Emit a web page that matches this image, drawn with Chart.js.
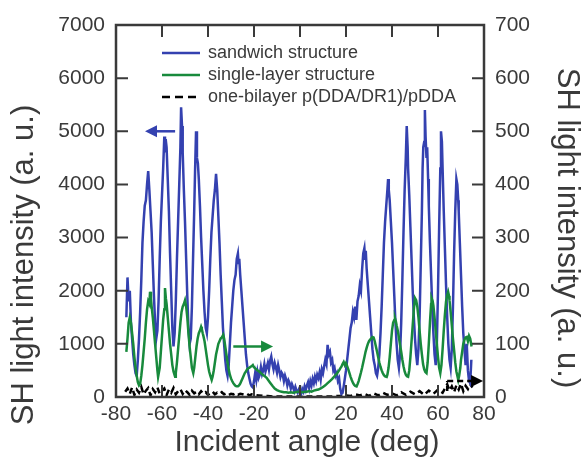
<!DOCTYPE html>
<html>
<head>
<meta charset="utf-8">
<script src="https://cdn.jsdelivr.net/npm/chart.js@4.4.1/dist/chart.umd.min.js"></script>
<style>
  html, body { margin: 0; padding: 0; background: #fff; }
  canvas { display: block; }
</style>
</head>
<body>
<canvas id="shg" width="581" height="457"></canvas>
<script>
// Data
const xTicks = [-80, -60, -40, -20, 0, 20, 40, 60, 80];
const leftTicks = [0, 1000, 2000, 3000, 4000, 5000, 6000, 7000];
const rightTicks = [0, 100, 200, 300, 400, 500, 600, 700];

const seriesNames = ['sandwich structure', 'single-layer structure', 'one-bilayer p(DDA/DR1)/pDDA'];

// sandwich structure (left axis)
const sandwichAngle = [
  -75.5, -75, -74.5, -74, -73.5, -73, -72.5, -72, -71.5, -71, -70.5, -70, -69.5, -69, -68.5, -68, -67.5, -67, -66.5, -66,
  -65.5, -65, -64.5, -64, -63.5, -63, -62.5, -62, -61.5, -61, -60.5, -60, -59.5, -59, -58.7, -58.4, -58, -57.5, -57, -56.5,
  -56, -55.5, -55, -54.5, -54, -53.5, -53, -52.5, -52, -51.7, -51.3, -51, -50.5, -50, -49.5, -49, -48.5, -48, -47.5, -47,
  -46.5, -46, -45.6, -45.2, -44.8, -44.4, -44, -43.5, -43, -42.5, -42, -41.5, -41, -40.5, -40, -39.5, -39, -38.5, -38, -37.5,
  -37, -36.5, -36, -35.5, -35, -34.5, -34, -33.5, -33, -32.5, -32, -31.5, -31, -30.5, -30, -29.5, -29, -28.5, -28, -27.5,
  -27, -26.7, -26.4, -26, -25.5, -25, -24.5, -24, -23.5, -23, -22.5, -22, -21.5, -21, -20.5, -20, -19.5, -19, -18.5, -18,
  -17.5, -17, -16.5, -16, -15.5, -15, -14.5, -14, -13.5, -13, -12.5, -12, -11.5, -11, -10.5, -10, -9.5, -9, -8.5, -8,
  -7.5, -7, -6.5, -6, -5.5, -5, -4.5, -4, -3.5, -3, -2.5, -2, -1.5, -1, -0.5, 0, 0.5, 1, 1.5, 2,
  2.5, 3, 3.5, 4, 4.5, 5, 5.5, 6, 6.5, 7, 7.5, 8, 8.5, 9, 9.5, 10, 10.5, 11, 11.5, 12,
  12.5, 13, 13.5, 14, 14.5, 15, 15.5, 16, 16.5, 17, 17.5, 18, 18.5, 19, 19.5, 20, 20.5, 21, 21.5, 22,
  22.5, 23, 23.5, 24, 24.5, 25, 25.5, 26, 26.5, 27, 27.5, 28, 28.3, 28.6, 29, 29.5, 30, 30.5, 31, 31.5,
  32, 32.5, 33, 33.5, 34, 34.5, 35, 35.5, 36, 36.5, 37, 37.5, 38, 38.3, 38.6, 39, 39.5, 40, 40.5, 41,
  41.5, 42, 42.5, 43, 43.5, 44, 44.5, 45, 45.5, 46, 46.4, 46.8, 47, 47.5, 48, 48.5, 49, 49.5, 50, 50.5,
  51, 51.5, 52, 52.5, 53, 53.3, 53.6, 54, 54.3, 54.6, 55, 55.3, 55.7, 56, 56.5, 57, 57.5, 58, 58.5, 59,
  59.5, 60, 60.5, 61, 61.3, 61.7, 62, 62.5, 63, 63.5, 64, 64.5, 65, 65.5, 66, 66.5, 67, 67.5, 68, 68.4,
  68.8, 69, 69.5, 70, 70.5, 71, 71.5, 72, 72.5, 73, 73.5, 74, 74.5
];
const sandwichSignal = [
  1500, 2250, 1800, 2000, 1400, 1100, 800, 600, 450, 400, 700, 1100, 1600, 2200, 2900, 3300, 3600, 3700, 4000, 4250,
  3900, 3500, 3100, 2500, 1900, 1400, 1100, 1250, 1800, 2600, 3300, 3800, 4300, 4900, 4600, 4850, 4700, 4100, 3500, 2700,
  2000, 1300, 950, 1200, 1800, 2600, 3300, 4000, 4700, 5450, 5100, 4600, 3900, 3300, 2600, 1900, 1300, 1000, 1100, 1700,
  2600, 3500, 4300, 5000, 4500, 4400, 4100, 3600, 3000, 2500, 2000, 1600, 1300, 1200, 1500, 2000, 2600, 3100, 3400, 3700,
  3900, 4200, 3900, 3400, 2900, 2300, 1800, 1300, 1000, 700, 500, 400, 600, 1000, 1400, 1700, 2000, 2200, 2300, 2600,
  2700, 2500, 2600, 2300, 2000, 1700, 1400, 1100, 800, 600, 450, 350, 250, 200, 180, 300, 450, 320, 480, 360,
  420, 560, 430, 500, 620, 480, 560, 640, 520, 680, 760, 620, 520, 640, 560, 460, 600, 500, 380, 460,
  420, 300, 400, 330, 220, 310, 260, 160, 240, 180, 110, 190, 120, 80, 140, 90, 60, 150, 100, 200,
  130, 220, 280, 170, 300, 220, 340, 260, 380, 300, 420, 360, 460, 330, 520, 450, 580, 700, 620, 980,
  800, 850, 650, 700, 500, 550, 400, 450, 300, 350, 150, 60, 80, 200, 350, 500, 700, 900, 1100, 1300,
  1400, 1600, 1500, 1700, 1450, 1800, 1900, 2100, 2000, 2400, 2700, 2800, 2600, 2750, 2400, 2100, 1800, 1500, 1200, 900,
  700, 600, 450, 400, 550, 800, 1200, 1700, 2300, 2900, 3300, 3600, 3900, 4100, 3900, 3700, 3300, 2900, 2400, 1900,
  1400, 1000, 700, 550, 800, 1400, 2200, 3100, 3900, 4500, 5100, 4700, 4300, 3800, 3200, 2600, 2000, 1500, 1100, 800,
  600, 900, 1500, 2500, 3500, 4300, 4700, 4800, 5400, 4900, 4500, 4700, 4100, 3600, 2900, 2300, 1700, 1200, 800, 600,
  1000, 2000, 3200, 4300, 5000, 4800, 4300, 3500, 2800, 2100, 1500, 1000, 700, 550, 900, 1700, 2700, 3500, 4100, 4000,
  3700, 3500, 2900, 2300, 1700, 1200, 900, 600, 1000, 500, 300, 260, 700
];

// single-layer structure (right axis)
const singleAngle = [
  -75.5, -75, -74.5, -74, -73.5, -73, -72.5, -72, -71.5, -71, -70.5, -70, -69.5, -69, -68.5, -68, -67.5, -67, -66.5, -66,
  -65.5, -65.2, -64.8, -64.5, -64, -63.5, -63, -62.5, -62, -61.7, -61, -60.5, -60, -59.5, -59, -58.7, -58.3, -58, -57.5, -57,
  -56.5, -56, -55.5, -55, -54.3, -54, -53.5, -53, -52.5, -52, -51.5, -51, -50.5, -50, -49.5, -49, -48.5, -48, -47.5, -47,
  -46.4, -46, -45.5, -45, -44.5, -44, -43.5, -43, -42.7, -42.3, -42, -41.5, -41, -40.5, -40, -39.5, -39, -38.4, -38, -37.5,
  -37, -36.5, -36, -35.5, -35, -34.5, -34, -33.4, -33, -32.5, -32, -31.5, -31, -30.5, -30, -29.5, -29, -28.5, -28, -27.5,
  -27, -26.5, -26, -25.5, -25, -24.5, -24, -23.5, -23, -22.5, -22, -21.5, -21, -20.5, -20, -19.5, -19, -18.5, -18, -17.5,
  -17, -16.5, -16, -15.5, -15, -14.5, -14, -13, -12, -11, -10, -9, -8, -7, -6, -5, -4, -3, -2, -1,
  0, 1, 2, 3, 4, 5, 6, 7, 8, 9, 10, 11, 12, 13, 14, 15, 16, 17, 17.5, 18,
  18.5, 19, 19.5, 20, 20.5, 21, 21.5, 22, 22.5, 23, 23.5, 24, 24.6, 25, 25.5, 26, 26.5, 27, 27.5, 28,
  28.5, 29, 29.5, 30, 30.5, 31, 31.5, 32, 32.5, 33, 33.5, 34, 34.5, 35, 35.5, 36, 36.5, 37, 37.7, 38,
  38.5, 39, 39.5, 40, 40.5, 41, 41.3, 41.7, 42, 42.5, 43, 43.5, 44, 44.5, 45, 45.5, 46, 46.5, 47, 47.5,
  48, 48.5, 49, 49.5, 50, 50.5, 51, 51.5, 52, 52.5, 53, 53.5, 54, 54.5, 55, 55.5, 56, 56.5, 57, 57.2,
  57.7, 58, 58.5, 59, 59.5, 60, 60.5, 61, 61.5, 62, 62.5, 63, 63.5, 64, 64.4, 64.8, 65, 65.5, 66, 66.5,
  67, 67.5, 68, 68.5, 68.8, 69.2, 69.7, 70, 70.5, 71, 71.5, 72, 72.5, 73, 73.5, 74, 74.6
];
const singleSignal = [
  85, 110, 140, 150, 140, 120, 100, 75, 55, 40, 28, 22, 25, 40, 60, 85, 110, 140, 165, 180,
  175, 198, 185, 170, 150, 125, 100, 75, 50, 38, 55, 85, 115, 145, 165, 205, 185, 175, 150, 125,
  100, 80, 60, 48, 38, 45, 65, 90, 115, 140, 160, 170, 175, 182, 170, 150, 120, 95, 75, 55,
  45, 55, 75, 95, 110, 120, 125, 132, 128, 120, 115, 105, 90, 75, 60, 48, 40, 32, 38, 50,
  65, 80, 90, 100, 105, 110, 112, 117, 110, 95, 80, 65, 52, 42, 35, 30, 26, 23, 21, 20,
  20, 22, 25, 30, 35, 40, 45, 48, 52, 54, 55, 57, 58, 60, 56, 54, 52, 50, 49, 47,
  45, 43, 41, 40, 38, 36, 33, 27, 21, 16, 13, 11, 10, 9, 9, 8, 9, 8, 9, 10,
  10, 9, 10, 10, 11, 10, 12, 13, 14, 16, 19, 22, 26, 30, 34, 39, 44, 50, 54, 57,
  62, 66, 60, 64, 58, 52, 45, 38, 32, 27, 23, 21, 20, 24, 30, 38, 46, 55, 65, 75,
  85, 93, 100, 105, 108, 110, 113, 112, 105, 95, 85, 75, 65, 57, 50, 45, 41, 39, 38, 42,
  55, 75, 100, 125, 140, 145, 148, 142, 135, 125, 112, 98, 85, 70, 58, 48, 42, 39, 38, 50,
  75, 105, 135, 165, 186, 182, 170, 150, 125, 100, 80, 62, 52, 47, 45, 65, 100, 140, 175, 186,
  180, 172, 150, 125, 100, 75, 55, 45, 60, 90, 125, 155, 180, 192, 198, 190, 182, 160, 135, 110,
  88, 65, 48, 38, 32, 40, 55, 70, 85, 100, 108, 112, 113, 105, 115, 110, 95
];

// one-bilayer reference (right axis)
const bilayerAngle = [
  -76, -75, -74, -73, -72, -71, -70, -69, -68, -67, -66, -65, -64, -63, -62, -61, -60, -59, -58, -57,
  -56, -55, -54, -53, -52, -51, -50, -49, -48, -47, -46, -45, -44, -43, -42, -41, -40, -39, -38, -37,
  -36, -35, -34, -33, -32, -31, -30, -29, -28, -27, -26, -25, -24, -23, -22, -21, -20, -18, -16, -14,
  -12, -10, -8, -6, -4, -2, 0, 2, 4, 6, 8, 10, 12, 14, 16, 18, 20, 22, 24, 26,
  28, 30, 32, 34, 36, 38, 40, 42, 44, 46, 48, 50, 52, 54, 56, 58, 60, 62, 63, 64,
  65, 66, 67, 68, 69, 70, 71, 72, 73, 74, 75
];
const bilayerSignal = [
  10, 16, 6, 18, 4, 14, 8, 19, 5, 12, 17, 3, 15, 9, 18, 6, 12, 16, 4, 14,
  8, 17, 5, 11, 15, 6, 13, 9, 4, 12, 7, 10, 5, 11, 6, 9, 4, 8, 10, 5,
  8, 6, 9, 5, 7, 4, 6, 5, 7, 4, 6, 5, 4, 6, 3, 5, 4, 3, 2, 2,
  1, 1, 1, 1, 1, 1, 1, 1, 1, 1, 1, 1, 1, 1, 2, 2, 3, 2, 5, 3,
  6, 2, 7, 3, 8, 4, 7, 3, 9, 4, 10, 5, 11, 4, 12, 6, 14, 8, 16, 24,
  12, 20, 9, 22, 14, 25, 11, 21, 15, 24, 18
];

const pairs = (xs, ys) => xs.map((x, i) => ({ x: x, y: ys[i] }));

const ink = '#3a3a3a';
const blue = '#3441b0';
const green = '#188a3c';
const fontFamily = '"Liberation Sans", Arial, Helvetica, sans-serif';

// arrows telling which axis each curve belongs to
function arrow(ctx, x1, y, x2, color, dashed) {
  const dir = Math.sign(x2 - x1);
  ctx.save();
  ctx.strokeStyle = color;
  ctx.fillStyle = color;
  ctx.lineWidth = 2.5;
  if (dashed) ctx.setLineDash([6, 4]);
  ctx.beginPath();
  ctx.moveTo(x1, y);
  ctx.lineTo(x2 - dir * 8, y);
  ctx.stroke();
  ctx.setLineDash([]);
  ctx.beginPath();
  ctx.moveTo(x2, y);
  ctx.lineTo(x2 - dir * 12, y - 6);
  ctx.lineTo(x2 - dir * 12, y + 6);
  ctx.closePath();
  ctx.fill();
  ctx.restore();
}

const decorations = {
  id: 'decorations',
  afterDatasetsDraw(chart) {
    const { ctx, chartArea: a, scales } = chart;
    const tickLen = 12;
    ctx.save();

    // inward tick marks
    ctx.strokeStyle = ink;
    ctx.lineWidth = 2;
    ctx.beginPath();
    xTicks.slice(1, -1).forEach((v) => {
      const px = scales.x.getPixelForValue(v);
      ctx.moveTo(px, a.top); ctx.lineTo(px, a.top + tickLen);
      ctx.moveTo(px, a.bottom); ctx.lineTo(px, a.bottom - tickLen);
    });
    leftTicks.slice(1, -1).forEach((v) => {
      const py = scales.y.getPixelForValue(v);
      ctx.moveTo(a.left, py); ctx.lineTo(a.left + tickLen, py);
    });
    rightTicks.slice(1, -1).forEach((v) => {
      const py = scales.y2.getPixelForValue(v);
      ctx.moveTo(a.right, py); ctx.lineTo(a.right - tickLen, py);
    });
    ctx.stroke();

    // frame
    ctx.lineWidth = 2.5;
    ctx.strokeRect(a.left, a.top, a.width, a.height);

    // arrows
    arrow(ctx, scales.x.getPixelForValue(-54.3), scales.y.getPixelForValue(5000),
      scales.x.getPixelForValue(-67.4), blue, false);
    arrow(ctx, scales.x.getPixelForValue(-29), scales.y2.getPixelForValue(95),
      scales.x.getPixelForValue(-11.7), green, false);
    const by = scales.y2.getPixelForValue(30);
    const bx = scales.x.getPixelForValue(64);
    ctx.strokeStyle = '#000';
    ctx.lineWidth = 2.5;
    ctx.setLineDash([5, 4]);
    ctx.beginPath();
    ctx.moveTo(bx, by + 10); ctx.lineTo(bx, by);
    ctx.stroke();
    ctx.setLineDash([]);
    arrow(ctx, bx, by, scales.x.getPixelForValue(79.6), '#000', true);

    // legend
    const colors = [blue, green, '#000'];
    ctx.font = '18px ' + fontFamily;
    ctx.textBaseline = 'middle';
    ctx.textAlign = 'left';
    seriesNames.forEach((name, i) => {
      const y = a.top + 28 + i * 22;
      ctx.strokeStyle = colors[i];
      ctx.lineWidth = 2.5;
      ctx.setLineDash(i === 2 ? [8, 5] : []);
      ctx.beginPath();
      ctx.moveTo(a.left + 46, y);
      ctx.lineTo(a.left + 84, y);
      ctx.stroke();
      ctx.setLineDash([]);
      ctx.fillStyle = ink;
      ctx.fillText(name, a.left + 92, y);
    });

    // axis titles
    ctx.fillStyle = ink;
    ctx.textAlign = 'center';
    ctx.font = '30px ' + fontFamily;
    ctx.fillText('Incident angle (deg)', 307, 443);
    ctx.font = '31px ' + fontFamily;
    ctx.save();
    ctx.translate(24, 265);
    ctx.rotate(-Math.PI / 2);
    ctx.fillText('SH light intensity (a. u.)', 0, 0);
    ctx.restore();
    ctx.save();
    ctx.translate(567, 228);
    ctx.rotate(Math.PI / 2);
    ctx.fillText('SH light intensity (a. u.)', 0, 0);
    ctx.restore();

    ctx.restore();
  }
};

const tickFont = { family: fontFamily, size: 21 };
const plain = (v) => String(v);

new Chart(document.getElementById('shg'), {
  type: 'line',
  data: {
    datasets: [
      {
        label: seriesNames[0],
        data: pairs(sandwichAngle, sandwichSignal),
        yAxisID: 'y',
        borderColor: blue,
        borderWidth: 2.5,
        order: 1
      },
      {
        label: seriesNames[1],
        data: pairs(singleAngle, singleSignal),
        yAxisID: 'y2',
        borderColor: green,
        borderWidth: 2.5,
        order: 0
      },
      {
        label: seriesNames[2],
        data: pairs(bilayerAngle, bilayerSignal),
        yAxisID: 'y2',
        borderColor: '#000',
        borderWidth: 2.5,
        borderDash: [6, 4],
        order: 2
      }
    ]
  },
  options: {
    responsive: false,
    animation: false,
    layout: { padding: { top: 25, right: 0, bottom: 0, left: 0 } },
    elements: { point: { radius: 0 }, line: { tension: 0, fill: false } },
    plugins: { legend: { display: false }, tooltip: { enabled: false } },
    scales: {
      x: {
        type: 'linear',
        min: -80,
        max: 80,
        afterBuildTicks: (s) => { s.ticks = xTicks.map((v) => ({ value: v })); },
        ticks: { font: tickFont, color: ink, padding: 5, callback: plain },
        grid: { display: false, drawTicks: false },
        border: { display: false },
        afterFit: (s) => { s.height = 60; }
      },
      y: {
        position: 'left',
        min: 0,
        max: 7000,
        afterBuildTicks: (s) => { s.ticks = leftTicks.map((v) => ({ value: v })); },
        ticks: { font: tickFont, color: ink, padding: 11, callback: plain },
        grid: { display: false, drawTicks: false },
        border: { display: false },
        afterFit: (s) => { s.width = 116; }
      },
      y2: {
        position: 'right',
        min: 0,
        max: 700,
        afterBuildTicks: (s) => { s.ticks = rightTicks.map((v) => ({ value: v })); },
        ticks: { font: tickFont, color: ink, padding: 11, callback: plain },
        grid: { display: false, drawTicks: false },
        border: { display: false },
        afterFit: (s) => { s.width = 97; }
      }
    }
  },
  plugins: [decorations]
});
</script>
</body>
</html>
